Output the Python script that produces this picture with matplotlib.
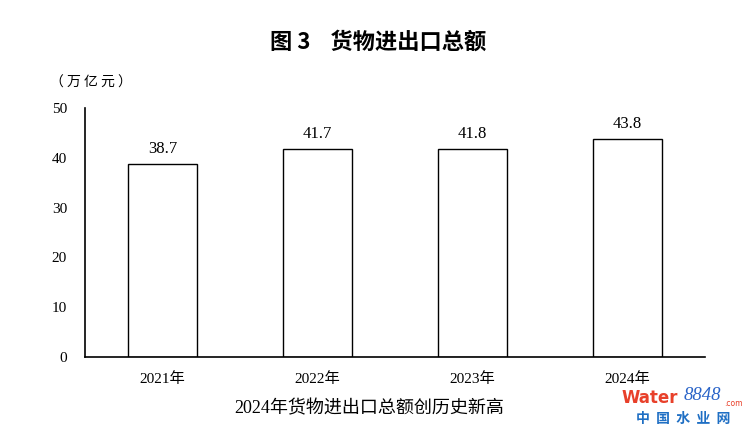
import matplotlib
matplotlib.use("Agg")
import matplotlib.pyplot as plt

years = ["2021年", "2022年", "2023年", "2024年"]
values = [38.7, 41.7, 41.8, 43.8]
yticks = [0, 10, 20, 30, 40, 50]

title = "图 3    货物进出口总额"
unit = "（ 万 亿 元 ）"
caption = "2024年货物进出口总额创历史新高"

serif = ["Liberation Serif", "Noto Sans CJK SC"]
cjk = ["Noto Sans CJK SC", "DejaVu Sans"]

fig = plt.figure(figsize=(7.5, 4.34), dpi=100)
ax = fig.add_axes([85/750, 1-357/434, (705-85)/750, (357-108)/434])

x = range(len(years))
ax.bar(x, values, width=0.44, color="white", edgecolor="black", linewidth=1.0)
for xi, v in zip(x, values):
    ax.text(xi, v + 1.4, f"{v:.1f}", ha="center", va="bottom",
            fontsize=12, family=serif)

ax.set_xlim(-0.5, 3.5)
ax.set_ylim(0, 50)
ax.set_yticks(yticks)
ax.set_yticklabels([str(t) for t in yticks], family=serif, fontsize=11)
ax.set_xticks(list(x))
ax.set_xticklabels(years, family=serif, fontsize=11)
ax.tick_params(axis="both", length=0)
ax.tick_params(axis="y", pad=13)
ax.tick_params(axis="x", pad=11)
for s in ["top", "right"]:
    ax.spines[s].set_visible(False)
ax.spines["left"].set_linewidth(1.2)
ax.spines["bottom"].set_linewidth(1.2)

fig.text(378/750, 1-42/434, title, ha="center", va="center",
         fontsize=16, fontweight="bold", family=cjk)
fig.text(50/750, 1-83/434, unit, ha="left", va="center",
         fontsize=10, family=cjk)
fig.text(369/750, 1-409/434, caption, ha="center", va="center",
         fontsize=13, family=serif)

# watermark
fig.text(622/750, 1-398/434, "Water", ha="left", va="center", fontsize=12,
         fontweight="bold", color="#e8402a", family=["DejaVu Sans"])
fig.text(684/750, 1-396/434, "8848", ha="left", va="center", fontsize=13.5,
         style="italic", color="#2a64c8", family=["Liberation Serif"])
fig.text(724/750, 1-403/434, ".com", ha="left", va="center", fontsize=5.5,
         color="#e8402a", family=["DejaVu Sans"])
fig.text(683/750, 1-419/434, "中  国  水  业  网", ha="center", va="center",
         fontsize=10, fontweight="bold", color="#1f6fc4", family=cjk)

fig.savefig("out.png", dpi=100)
